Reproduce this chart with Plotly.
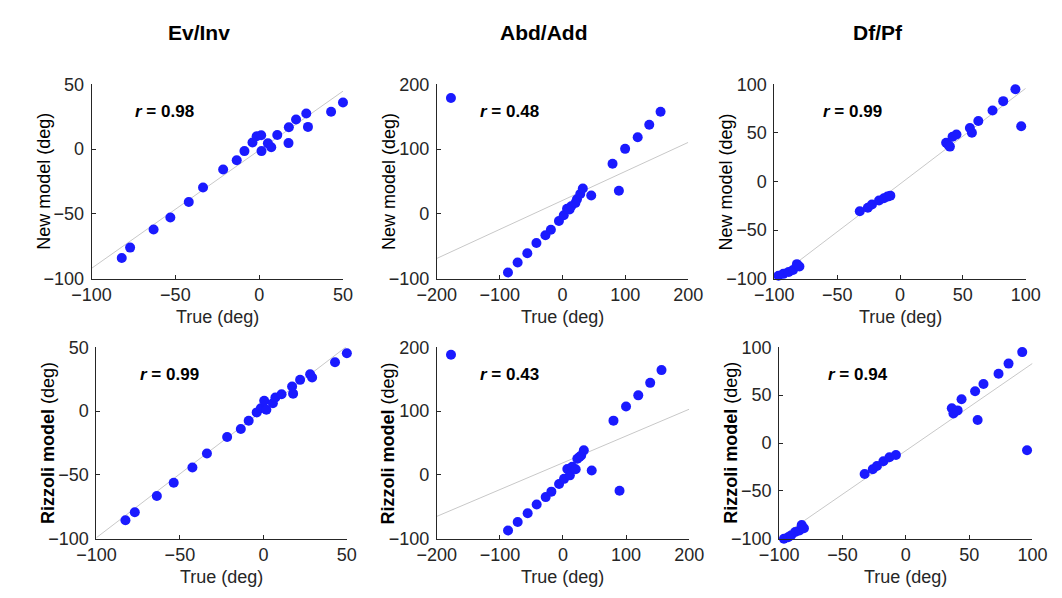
import numpy as np
import plotly.graph_objects as go

# ---------------- data ----------------
panel_titles = ["Ev/Inv", "Abd/Add", "Df/Pf"]
row_labels = ["New model (deg)", "<b>Rizzoli model</b> (deg)"]
x_label = "True (deg)"

# Ev/Inv, new model
evinv_new_true = [-82, -77, -63, -53, -42, -33.5, -21.5, -13.4, -8.8, -4, -1.5, 1.2, 1.4,
                  5.2, 7.2, 10.8, 17.5, 17.7, 22, 28.1, 29.1, 42.9, 50]
evinv_new_pred = [-84, -76, -62, -52.7, -40.8, -29.6, -15.7, -8.5, -1.5, 5.2, 10, 10.7, -1.5,
                  4.5, 1.5, 10.9, 4.7, 16.9, 22.9, 27.6, 17.2, 28.9, 36.1]

# Abd/Add, new model
abdadd_new_true = [-177.5, -86.8, -71.4, -56, -41.5, -27.2, -18.5, -5.7, 2, 7.2, 11.2, 13.8,
                   20.5, 23, 28.2, 32.3, 45.7, 89.7, 79.6, 99.6, 119.6, 138, 156]
abdadd_new_pred = [179, -90.5, -75, -60.7, -44.8, -32.8, -24.5, -11, -2, 7.9, 6.9, 11.9,
                   16.9, 22.8, 30.7, 39.3, 28.4, 35.8, 77.6, 100.5, 118.4, 137.8, 157.7]

# Df/Pf, new model
dfpf_new_true = [-96.7, -92.8, -88.5, -85.1, -82, -80, -32, -25.6, -22.3, -16.7, -12.8, -10,
                 -7.7, 36.7, 38.5, 39.7, 41.8, 44.9, 55.6, 57.2, 62.3, 73.6, 82.1, 91.8, 96.4]
dfpf_new_pred = [-97, -95, -93, -91, -85, -87.5, -30.6, -26.9, -23.6, -19.5, -17.2, -15.5,
                 -14.5, 40, 37.7, 36, 46.1, 48.5, 55.2, 50.2, 62.3, 73.1, 82.8, 95, 56.9]

# Ev/Inv, Rizzoli model
evinv_riz_true = [-82.6, -77, -63.8, -53.7, -42.5, -33.8, -21.7, -13.5, -8.8, -4, -1.5, 0.5,
                  1.8, 5.7, 7.2, 10.9, 17.2, 17.8, 22, 28, 29.2, 42.9, 50]
evinv_riz_pred = [-85.5, -79.2, -66.5, -56.1, -44.2, -33.2, -20.3, -14, -7.5, -1, 2.3, 8.1,
                  1.1, 6.1, 10.7, 13.2, 19.3, 13.7, 24.5, 28.9, 26.4, 38.3, 45.4]

# Abd/Add, Rizzoli model
abdadd_riz_true = [-177.5, -87.1, -71.8, -56, -41.7, -27.4, -18.4, -6.2, 1.7, 6.9, 10.9,
                   14.6, 20.1, 22.7, 26, 28.8, 33, 45.5, 89.6, 80, 99.9, 119.3, 138.2, 156.1]
abdadd_riz_pred = [188.4, -87.2, -73.7, -60.2, -46.4, -34.8, -26.2, -14.2, -6.2, 9.3, -0.7,
                   12.9, 8.9, 25.4, 28, 30.4, 38.5, 6.9, -24.8, 85.1, 107.2, 124.7, 144.3, 164.3]

# Df/Pf, Rizzoli model
dfpf_riz_true = [-96.2, -92.9, -90.6, -87.3, -84, -82.2, -80.4, -32.5, -26.1, -22.8, -17.7,
                 -12.9, -7.8, 36.3, 37.6, 40.9, 44, 54.7, 56.7, 61.3, 73.2, 81.1, 91.9, 95.7]
dfpf_riz_pred = [-100, -98.4, -96.7, -93, -91.4, -85.7, -89, -32.4, -27.5, -24.1, -19.1,
                 -14.8, -12.5, 36.4, 30.8, 34.1, 45.8, 54.1, 24.1, 61.7, 72.4, 83, 95, -7.5]

# correlation coefficients and least-squares fit lines (slope, intercept)
r_values = [0.98, 0.48, 0.99, 0.99, 0.43, 0.94]
fit_slope = [0.912, 0.448, 0.985, 1.0, 0.42, 0.912]
fit_intercept = [-0.8, 20.9, -2.5, 0.8, 19.0, -8.0]

# axis ranges and ticks per column
x_ranges = [[-100, 50], [-200, 200], [-100, 100]]
y_ranges = [[-100, 50], [-100, 200], [-100, 100]]
x_ticks = [[-100, -50, 0, 50], [-200, -100, 0, 100, 200], [-100, -50, 0, 50, 100]]
y_ticks = [[-100, -50, 0, 50], [-100, 0, 100, 200], [-100, -50, 0, 50, 100]]

panels = [
    (evinv_new_true, evinv_new_pred), (abdadd_new_true, abdadd_new_pred), (dfpf_new_true, dfpf_new_pred),
    (evinv_riz_true, evinv_riz_pred), (abdadd_riz_true, abdadd_riz_pred), (dfpf_riz_true, dfpf_riz_pred),
]

# ---------------- layout geometry (pixels) ----------------
W, H = 1062, 598
FONT = "Liberation Sans, Arial, Helvetica, sans-serif"
MARKER = "#1a1aff"
AXIS_COL = "#262626"

# [left, right] in px for each panel, [top, bottom] per row
px_cols = [[(74, 334), (431, 691), (780, 1040)],
           [(79, 338), (431, 692), (785, 1047)]]
px_rows = [(77, 278), (349, 547)]

fig = go.Figure()
annotations = []

for i, (xt, yp) in enumerate(panels):
    row, col = divmod(i, 3)
    n = i + 1
    xa = "x" if n == 1 else f"x{n}"
    ya = "y" if n == 1 else f"y{n}"
    (l, r), (t, b) = px_cols[row][col], px_rows[row]

    # regression line across the full x range
    xr = np.array(x_ranges[col], dtype=float)
    fig.add_trace(go.Scatter(
        x=xr, y=fit_slope[i] * xr + fit_intercept[i], mode="lines",
        line=dict(color="#c8c8c8", width=1), xaxis=xa, yaxis=ya,
        hoverinfo="skip", showlegend=False))
    fig.add_trace(go.Scatter(
        x=xt, y=yp, mode="markers", cliponaxis=False,
        marker=dict(color=MARKER, size=10, line=dict(width=0)),
        xaxis=xa, yaxis=ya, showlegend=False))

    axis_common = dict(
        showgrid=False, zeroline=False, showline=True, linecolor=AXIS_COL, linewidth=1,
        ticks="inside", ticklen=4, tickcolor=AXIS_COL, tickwidth=1,
        tickfont=dict(family=FONT, size=18, color=AXIS_COL), fixedrange=True)
    suffix = "" if n == 1 else str(n)
    fig.layout[f"xaxis{suffix}"] = dict(
        axis_common, domain=[l / W, r / W], range=x_ranges[col], tickvals=x_ticks[col],
        anchor=ya, ticklabelstandoff=0)
    fig.layout[f"yaxis{suffix}"] = dict(
        axis_common, domain=[1 - b / H, 1 - t / H], range=y_ranges[col],
        tickvals=y_ticks[col], anchor=xa, ticklabelstandoff=3)

    # correlation label
    annotations.append(dict(
        x=(l + (43 if col != 2 else 48)) / W, y=1 - (t + 28) / H, xref="paper", yref="paper",
        xanchor="left", yanchor="middle", showarrow=False,
        text=f"<b><i>r</i> = {r_values[i]:.2f}</b>",
        font=dict(family=FONT, size=17, color="black")))

    # x label
    annotations.append(dict(
        x=(l + r) / 2 / W, y=1 - (b + 40) / H, xref="paper", yref="paper",
        xanchor="center", yanchor="middle", showarrow=False, text=x_label,
        font=dict(family=FONT, size=18, color=AXIS_COL)))

    # y label
    annotations.append(dict(
        x=(l - 50) / W, y=1 - (t + b) / 2 / H, xref="paper", yref="paper",
        xanchor="center", yanchor="middle", showarrow=False, textangle=-90,
        text=row_labels[row], font=dict(family=FONT, size=18, color="black")))

# column titles
title_px_x = [185, 541, 887]
for col, title in enumerate(panel_titles):
    annotations.append(dict(
        x=title_px_x[col] / W, y=1 - 23 / H, xref="paper", yref="paper",
        xanchor="center", yanchor="middle", showarrow=False,
        text=f"<b>{title}</b>", font=dict(family=FONT, size=21, color="black")))

fig.update_layout(
    width=W, height=H, margin=dict(l=0, r=0, t=0, b=0),
    paper_bgcolor="white", plot_bgcolor="white",
    annotations=annotations, showlegend=False)

fig.write_html("out.html", config={"displayModeBar": False})
